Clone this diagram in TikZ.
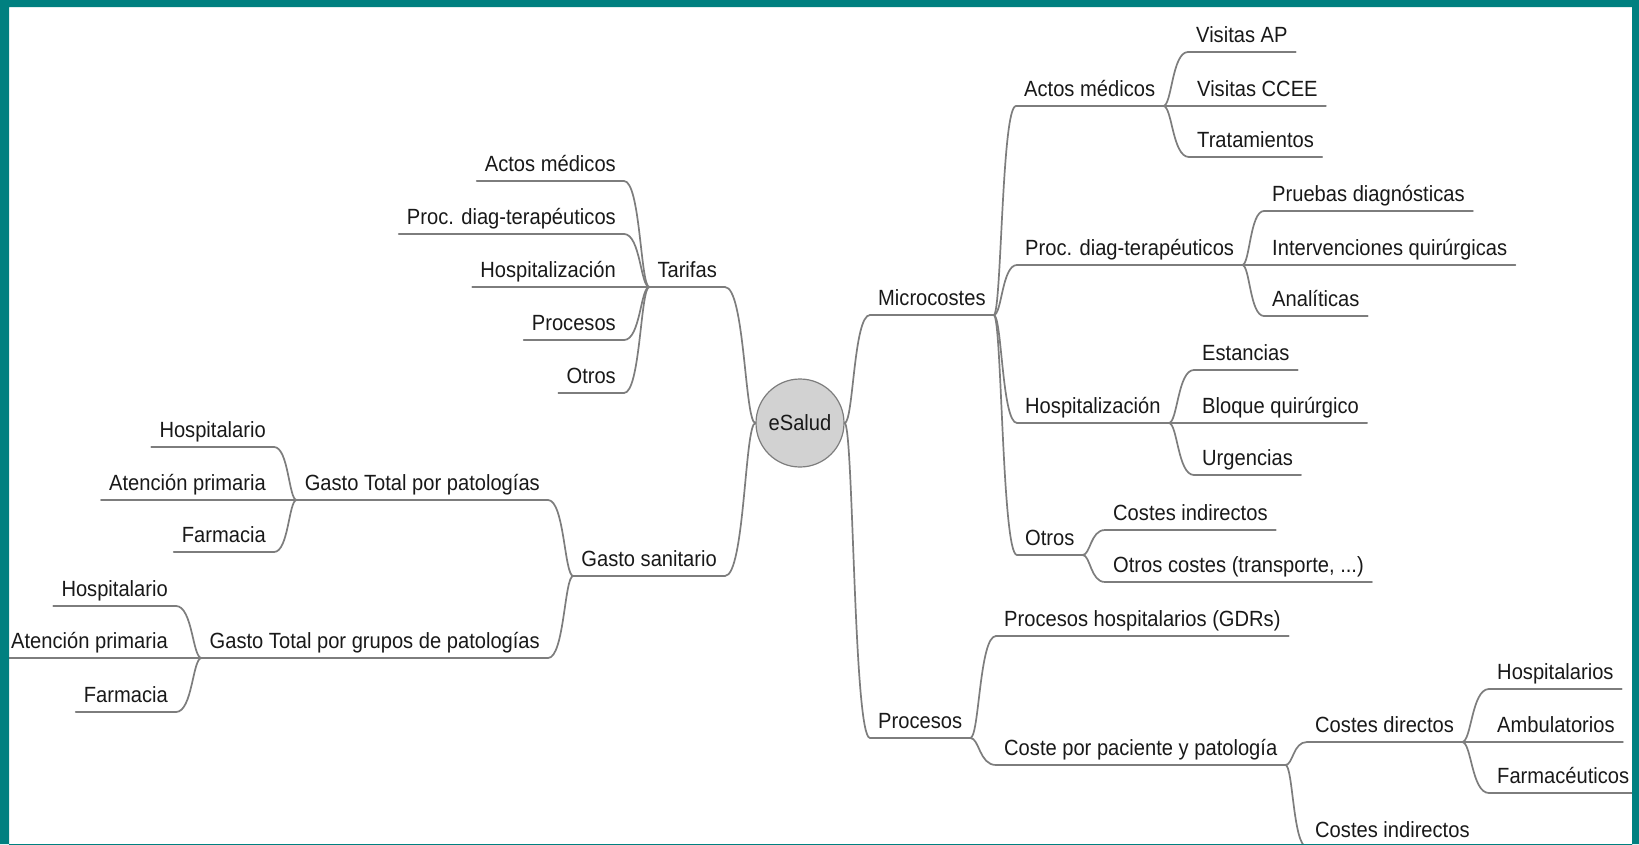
\documentclass[tikz,border=0pt]{standalone}
\usepackage{fontspec}
\setmainfont{Liberation Sans}[FakeStretch=0.915]
\usetikzlibrary{calc}
\definecolor{frame}{RGB}{0,128,128}
\definecolor{ln}{RGB}{125,125,125}
\definecolor{txt}{RGB}{25,25,25}
\definecolor{hub}{RGB}{210,210,210}
\begin{document}
\begin{tikzpicture}[x=1pt,y=-1pt,
  ln/.style={draw=ln,line width=1.7pt,line cap=round},
  topic/.style={inner xsep=8pt,inner ysep=0pt,text height=16pt,text depth=9.5pt,
    font=\fontsize{22}{26}\selectfont,text=txt},
  tR/.style={topic,anchor=south west},
  tL/.style={topic,anchor=south east},
  conn/.style={to path={let \p1=(\tikztostart),\p2=(\tikztotarget) in
    .. controls ({\x1+0.35*(\x2-\x1)},\y1) and ({\x1+0.35*(\x2-\x1)},\y2) .. (\tikztotarget)}}]
\useasboundingbox (0,0) rectangle (1639,844);
\fill[white] (0,0) rectangle (1639,844);

% centre
\node[circle,draw=ln,line width=1.2pt,fill=hub,minimum size=88pt,inner sep=0pt,
  font=\fontsize{22}{26}\selectfont,text=txt] (es) at (800,423) {eSalud};

% right side
\node[tR] (mc) at (870,315) {Microcostes};
\node[tR] (pr) at (870,738) {Procesos};
\node[tR] (am) at (1016,106) {Actos médicos};
\node[tR] (pd) at (1017,265) {Proc. diag-terapéuticos};
\node[tR] (ho) at (1017,423) {Hospitalización};
\node[tR] (ot) at (1017,555) {Otros};
\node[tR] (va) at (1188,52) {Visitas AP};
\node[tR] (vc) at (1189,106) {Visitas CCEE};
\node[tR] (tr) at (1189,157) {Tratamientos};
\node[tR] (pdg) at (1264,211) {Pruebas diagnósticas};
\node[tR] (iq) at (1264,265) {Intervenciones quirúrgicas};
\node[tR] (an) at (1264,316) {Analíticas};
\node[tR] (est) at (1194,370) {Estancias};
\node[tR] (bq) at (1194,423) {Bloque quirúrgico};
\node[tR] (ur) at (1194,475) {Urgencias};
\node[tR] (ci) at (1105,530) {Costes indirectos};
\node[tR] (oc) at (1105,582) {Otros costes (transporte, ...)};
\node[tR] (ph) at (996,636) {Procesos hospitalarios (GDRs)};
\node[tR] (cp) at (996,765) {Coste por paciente y patología};
\node[tR] (cd) at (1307,742) {Costes directos};
\node[tR] (cib) at (1307,847) {Costes indirectos};
\node[tR] (hs) at (1489,689) {Hospitalarios};
\node[tR] (amb) at (1489,742) {Ambulatorios};
\node[tR] (fa) at (1489,793) {Farmacéuticos};

% left side
\node[tL] (ta) at (725,287) {Tarifas};
\node[tL] (gs) at (725,576) {Gasto sanitario};
\node[tL] (lam) at (624,181) {Actos médicos};
\node[tL] (lpd) at (624,234) {Proc. diag-terapéuticos};
\node[tL] (lho) at (624,287) {Hospitalización};
\node[tL] (lpr) at (624,340) {Procesos};
\node[tL] (lot) at (624,393) {Otros};
\node[tL] (ga) at (548,500) {Gasto Total por patologías};
\node[tL] (gb) at (548,658) {Gasto Total por grupos de patologías};
\node[tL] (ha) at (274,447) {Hospitalario};
\node[tL] (aa) at (274,500) {Atención primaria};
\node[tL] (fa1) at (274,552) {Farmacia};
\node[tL] (hb) at (176,606) {Hospitalario};
\node[tL] (ab) at (176,658) {Atención primaria};
\node[tL] (fb) at (176,712) {Farmacia};

% underlines
\foreach \n in {mc,pr,am,pd,ho,ot,va,vc,tr,pdg,iq,an,est,bq,ur,ci,oc,ph,cp,cd,cib,hs,amb,fa,
  ta,gs,lam,lpd,lho,lpr,lot,ga,gb,ha,aa,fa1,hb,ab,fb}
  \draw[ln] (\n.south west) -- (\n.south east);

% connectors, right side
\foreach \c in {mc,pr} \draw[ln] (es.east) to[conn] (\c.south west);
\foreach \c in {am,pd,ho,ot} \draw[ln] (mc.south east) to[conn] (\c.south west);
\foreach \c in {va,vc,tr} \draw[ln] (am.south east) to[conn] (\c.south west);
\foreach \c in {pdg,iq,an} \draw[ln] (pd.south east) to[conn] (\c.south west);
\foreach \c in {est,bq,ur} \draw[ln] (ho.south east) to[conn] (\c.south west);
\foreach \c in {ci,oc} \draw[ln] (ot.south east) to[conn] (\c.south west);
\foreach \c in {ph,cp} \draw[ln] (pr.south east) to[conn] (\c.south west);
\foreach \c in {cd,cib} \draw[ln] (cp.south east) to[conn] (\c.south west);
\foreach \c in {hs,amb,fa} \draw[ln] (cd.south east) to[conn] (\c.south west);

% connectors, left side
\foreach \c in {ta,gs} \draw[ln] (es.west) to[conn] (\c.south east);
\foreach \c in {lam,lpd,lho,lpr,lot} \draw[ln] (ta.south west) to[conn] (\c.south east);
\foreach \c in {ga,gb} \draw[ln] (gs.south west) to[conn] (\c.south east);
\foreach \c in {ha,aa,fa1} \draw[ln] (ga.south west) to[conn] (\c.south east);
\foreach \c in {hb,ab,fb} \draw[ln] (gb.south west) to[conn] (\c.south east);

% frame
\fill[frame,even odd rule] (0,0) rectangle (1639,844) (9,7) rectangle (1632,860);
\end{tikzpicture}
\end{document}
